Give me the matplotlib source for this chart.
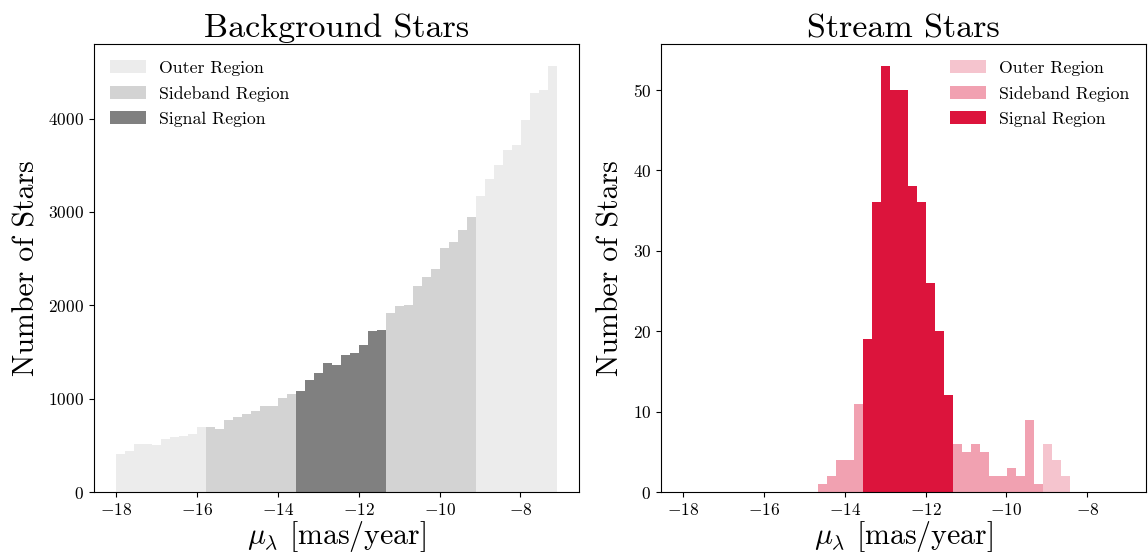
import numpy as np
import matplotlib
matplotlib.use("Agg")
import matplotlib.pyplot as plt

plt.rcParams['font.family'] = 'serif'
plt.rcParams['font.serif'] = ['cmr10']
plt.rcParams['mathtext.fontset'] = 'cm'
plt.rcParams['axes.formatter.use_mathtext'] = True
plt.rcParams['axes.unicode_minus'] = True

# Binning (shared by both panels)
bin_lo, bin_hi, n_bins = -18.0, -7.1, 49

# Region of each bin: 0=outer, 1=sideband, 2=signal
region_of_bin = [0]*10 + [1]*10 + [2]*10 + [1]*10 + [0]*9

background_counts = [
    411, 443, 518, 518, 504, 564, 586, 596, 625, 693,
    693, 679, 775, 807, 839, 871, 925, 925, 1011, 1054,
    1086, 1204, 1279, 1386, 1364, 1471, 1493, 1579, 1729, 1739,
    1921, 1996, 2007, 2211, 2307, 2393, 2618, 2682, 2811, 2950,
    3175, 3357, 3507, 3668, 3721, 3989, 4279, 4311, 4568,
]

stream_counts = [
    0, 0, 0, 0, 0, 0, 0, 0, 0, 0,
    0, 0, 0, 0, 0, 1, 2, 4, 4, 11,
    19, 36, 53, 50, 50, 38, 36, 26, 20, 12,
    6, 5, 6, 5, 2, 2, 3, 2, 9, 1,
    6, 4, 2, 0, 0, 0, 0, 0, 0,
]

region_labels = ["Outer Region", "Sideband Region", "Signal Region"]
background_colors = ["#ececec", "#d3d3d3", "#808080"]
stream_colors = ["#f5c4ce", "#f1a1b1", "#dc143c"]

titles = ["Background Stars", "Stream Stars"]
xlabel = r"$\mu_\lambda$ [mas/year]"
ylabel = "Number of Stars"
xticks = [-18, -16, -14, -12, -10, -8]

edges = np.linspace(bin_lo, bin_hi, n_bins + 1)
centers = 0.5 * (edges[:-1] + edges[1:])
regions = np.array(region_of_bin)

fig, axes = plt.subplots(1, 2, figsize=(11.48, 5.6), dpi=100)
fig.subplots_adjust(left=0.0819, right=0.998, bottom=0.1214, top=0.921, wspace=0.169)

panels = [(background_counts, background_colors, "upper left"),
          (stream_counts, stream_colors, "upper right")]

for ax, (counts, colors, loc), title in zip(axes, panels, titles):
    counts = np.array(counts)
    for r in range(3):
        m = regions == r
        ax.hist(centers[m], bins=edges, weights=counts[m], color=colors[r],
                label=region_labels[r])
    ax.set_title(title, fontsize=24.5, pad=5)
    ax.set_xlabel(xlabel, fontsize=21.5, labelpad=1)
    ax.set_ylabel(ylabel, fontsize=21.5, labelpad=6)
    ax.set_xticks(xticks)
    ax.tick_params(labelsize=12.5)
    ax.legend(loc=loc, frameon=False, fontsize=12.8, handlelength=2.0,
              handleheight=0.75, labelspacing=0.55, handletextpad=0.75,
              borderaxespad=0.5)

fig.savefig("out.png", dpi=100)
